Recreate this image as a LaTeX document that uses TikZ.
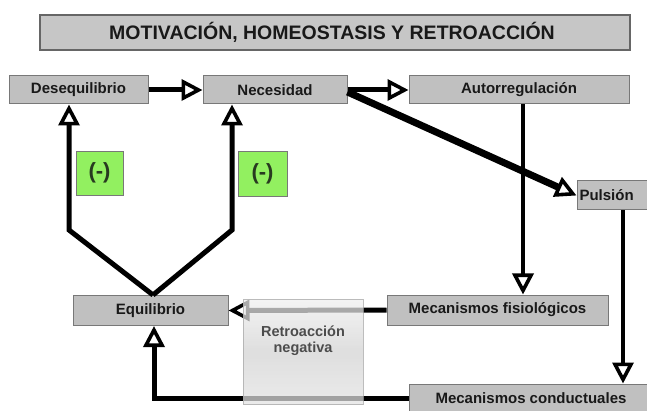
\documentclass[tikz,border=0pt]{standalone}
\usepackage{fontspec}
\setmainfont{Liberation Sans}
\usetikzlibrary{arrows.meta,calc}
\definecolor{boxgray}{RGB}{192,192,192}
\definecolor{boxline}{RGB}{120,120,120}
\definecolor{titlegray}{RGB}{198,198,198}
\definecolor{txt}{RGB}{25,25,25}
\definecolor{greenbox}{RGB}{146,240,96}
\definecolor{greentxt}{RGB}{40,58,32}
\tikzset{
  gbox/.style={draw=boxline, fill=boxgray, line width=1pt, inner sep=0pt,
    font=\fontsize{15}{17}\selectfont\bfseries, text=txt},
  minusbox/.style={draw=boxline, fill=greenbox, line width=0.8pt, inner sep=0pt,
    font=\fontsize{22}{24}\selectfont\bfseries, text=greentxt},
  conn/.style={line width=5pt, line join=miter},
  arr/.style={conn, -{Triangle[length=21pt,width=21pt,fill=white,line width=3.6pt]}},
}
\begin{document}
\begin{tikzpicture}[x=1pt,y=-1pt]
\useasboundingbox (0,0) rectangle (647,411);
\clip (0,0) rectangle (647,411);
\fill[white] (0,0) rectangle (647,411);
% title
\node[draw=black!60, fill=titlegray, line width=1.5pt, minimum width=590pt, minimum height=35pt, inner sep=0pt] (title) at (335,32.5) {};
\node[font=\fontsize{19.5}{21}\selectfont\bfseries, text=txt, inner sep=0pt] (titletext) at (332,32.5) {MOTIVACIÓN, HOMEOSTASIS Y RETROACCIÓN};
% boxes
\node[gbox, minimum width=139pt, minimum height=28pt] (desq) at (78.5,90) {Desequilibrio};
\node[gbox, minimum width=144pt, minimum height=28pt] (nec) at (275,90) {Necesidad};
\node[gbox, minimum width=220pt, minimum height=28pt] (aut) at (519,90) {Autorregulación};
\node[gbox, minimum width=83pt, minimum height=29pt, text width=78pt, align=left] (puls) at (618.5,195.5) {Pulsión};
\node[gbox, minimum width=155pt, minimum height=30pt] (equil) at (150.5,310.5) {Equilibrio};
\node[gbox, minimum width=221pt, minimum height=30pt] (mecfis) at (497.5,310) {Mecanismos fisiológicos};
\node[gbox, minimum width=244pt, minimum height=28pt] (mecond) at (531,398) {Mecanismos conductuales};
% green signs
\node[minusbox, minimum width=47pt, minimum height=44pt] (g1) at (99.5,173) {(-)};
\node[minusbox, minimum width=49pt, minimum height=45pt] (g2) at (262.5,173.5) {(-)};
% connectors
\draw[arr] (desq.east) -- (nec.west);
\draw[arr] (nec.east) -- (aut.west);
\draw[arr, line width=7pt] ([yshift=-2pt]nec.east) -- (puls.west);
\draw[arr, line width=4pt] ([xshift=4pt]aut.south) -- ([xshift=4pt]aut.south |- mecfis.north);
\draw[arr, line width=4pt] ([xshift=4.5pt]puls.south) -- ([xshift=4.5pt]puls.south |- mecond.north);
\coordinate (vtip) at ([xshift=2.5pt]equil.north);
\coordinate (bendL) at (69,230);
\coordinate (bendR) at (232,230);
\draw[arr] (vtip) -- (bendL) -- (bendL |- desq.south);
\draw[arr] (vtip) -- (bendR) -- (bendR |- nec.south);
\draw[arr] (mecfis.west) -- (equil.east);
\draw[arr] (mecond.west) -| ([xshift=3.5pt]equil.south);
% retroaccion negativa (translucent)
\shade[top color=gray!12, bottom color=gray!22, middle color=gray!35, draw=gray!70, line width=0.8pt, opacity=0.72]
  (243,299) rectangle (363,404);
\node[font=\fontsize{14.5}{16}\selectfont\bfseries, text=black!70, align=center, inner sep=0pt] (retro) at (303,341) {Retroacción\\negativa};
\end{tikzpicture}
\end{document}
